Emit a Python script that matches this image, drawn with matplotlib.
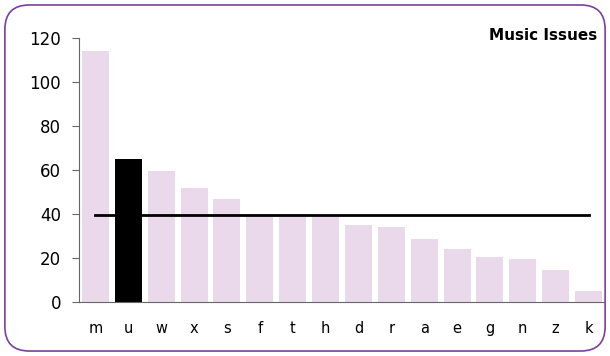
import numpy as np
import matplotlib.pyplot as plt
from matplotlib.patches import FancyBboxPatch

# chart data
categories = ["m", "u", "w", "x", "s", "f", "t", "h", "d", "r", "a", "e", "g", "n", "z", "k"]
values = [114, 65, 59.5, 52, 47, 40, 40, 39, 35, 34, 28.5, 24, 20.5, 19.5, 14.5, 5]
average = [39.5] * len(categories)
highlight = "u"

bar_color = "#EAD9EB"
colors = ["black" if c == highlight else bar_color for c in categories]

fig = plt.figure(figsize=(6.1, 3.56), dpi=100)

# rounded purple frame
frame = FancyBboxPatch((0.008, 0.014), 0.984, 0.972,
                       boxstyle="round,pad=0,rounding_size=0.04",
                       transform=fig.transFigure, facecolor="none",
                       edgecolor="#7B3F9E", linewidth=1.2,
                       mutation_aspect=610 / 356, zorder=-1)
fig.patches.append(frame)

ax = fig.add_axes([0.1295, 0.1517, 0.8623, 0.7416])
ax.set_facecolor("none")
x = np.arange(len(categories))
ax.bar(x, values, width=0.82, color=colors, zorder=2)
ax.plot(x, average, color="black", linewidth=2, zorder=3)

ax.set_xlim(-0.5, len(categories) - 0.5)
ax.set_ylim(0, 120)
ax.set_yticks([0, 20, 40, 60, 80, 100, 120])
ax.set_xticks(x)
ax.set_xticklabels(categories)

for side in ["top", "right"]:
    ax.spines[side].set_visible(False)
ax.spines["left"].set_color("#666666")
ax.spines["bottom"].set_color("#666666")
ax.tick_params(axis="y", length=5, color="#666666", pad=8, labelsize=12)
ax.tick_params(axis="x", length=0, pad=14, labelsize=10.5)

fig.text(0.979, 0.9, "Music Issues", ha="right", va="center",
         fontsize=11, fontweight="bold")

fig.savefig("out.png", dpi=100)
